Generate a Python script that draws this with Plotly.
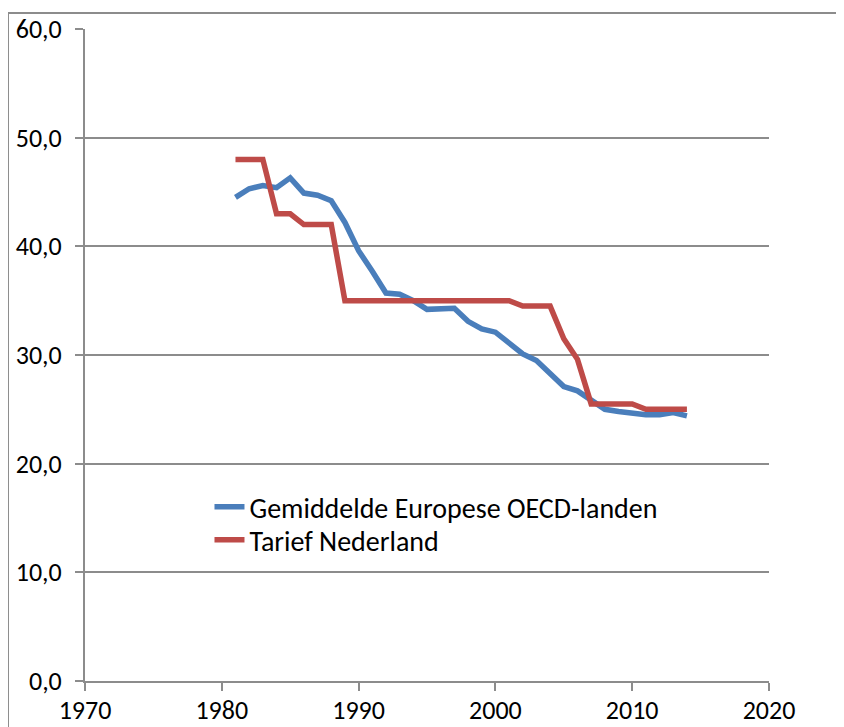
import plotly.graph_objects as go

years = list(range(1981, 2015))
oecd_europe = [44.5, 45.3, 45.6, 45.4, 46.3, 44.9, 44.7, 44.2, 42.2, 39.6,
               37.7, 35.7, 35.6, 35.0, 34.2, 34.2, 34.3, 33.1, 32.4, 32.1,
               31.1, 30.1, 29.5, 28.3, 27.1, 26.7, 25.9, 25.0, 24.8, 24.6,
               24.5, 24.5, 24.7, 24.4]
nederland = [48.0, 48.0, 48.0, 43.0, 43.0, 42.0, 42.0, 42.0, 35.0, 35.0,
             35.0, 35.0, 35.0, 35.0, 35.0, 35.0, 35.0, 35.0, 35.0, 35.0,
             35.0, 34.5, 34.5, 34.5, 31.5, 29.6, 25.5, 25.5, 25.5, 25.5,
             25.0, 25.0, 25.0, 25.0]
series_names = ["Gemiddelde Europese OECD-landen", "Tarief Nederland"]
x_ticks = [1970, 1980, 1990, 2000, 2010, 2020]
y_ticks = [0, 10, 20, 30, 40, 50, 60]

FONT = "Carlito, Lato, 'Liberation Sans', sans-serif"
GRID = "#8c8c8c"

fig = go.Figure()
fig.add_trace(go.Scatter(x=years, y=oecd_europe, mode="lines", name=series_names[0],
                         line=dict(color="#4A7EBB", width=5.5), legend="legend"))
fig.add_trace(go.Scatter(x=years, y=nederland, mode="lines", name=series_names[1],
                         line=dict(color="#BE4B48", width=5.5), legend="legend2"))

leg_common = dict(xanchor="left", yanchor="middle", bgcolor="rgba(0,0,0,0)",
                  font=dict(size=28))

fig.update_layout(
    width=836, height=719,
    margin=dict(l=77, r=75, t=21, b=46),
    paper_bgcolor="white", plot_bgcolor="white",
    separators=",.",
    font=dict(family=FONT, size=26, color="black"),
    showlegend=True,
    legend=dict(x=0.182, y=0.2669, **leg_common),
    legend2=dict(x=0.182, y=0.2163, **leg_common),
    xaxis=dict(range=[1970, 2020], tickvals=x_ticks, showgrid=False,
               showline=True, linecolor=GRID, linewidth=2, automargin=False,
               ticks="outside", ticklen=8, tickwidth=2, tickcolor=GRID,
               zeroline=False, tickfont=dict(size=26), ticklabelstandoff=-3),
    yaxis=dict(range=[0, 60], tickvals=y_ticks, tickformat=".1f",
               showgrid=True, gridcolor=GRID, gridwidth=1.5, automargin=False,
               showline=True, linecolor=GRID, linewidth=2,
               ticks="outside", ticklen=8, tickwidth=2, tickcolor=GRID,
               zeroline=False, tickfont=dict(size=26), ticklabelstandoff=8),
    shapes=[
        dict(type="line", xref="paper", yref="paper", x0=-0.1126, x1=1.11,
             y0=1.0245, y1=1.0245, line=dict(color=GRID, width=2)),
        dict(type="line", xref="paper", yref="paper", x0=-0.1126, x1=-0.1126,
             y0=1.0245, y1=-0.08, line=dict(color=GRID, width=2)),
    ],
)

fig.write_html("out.html")
